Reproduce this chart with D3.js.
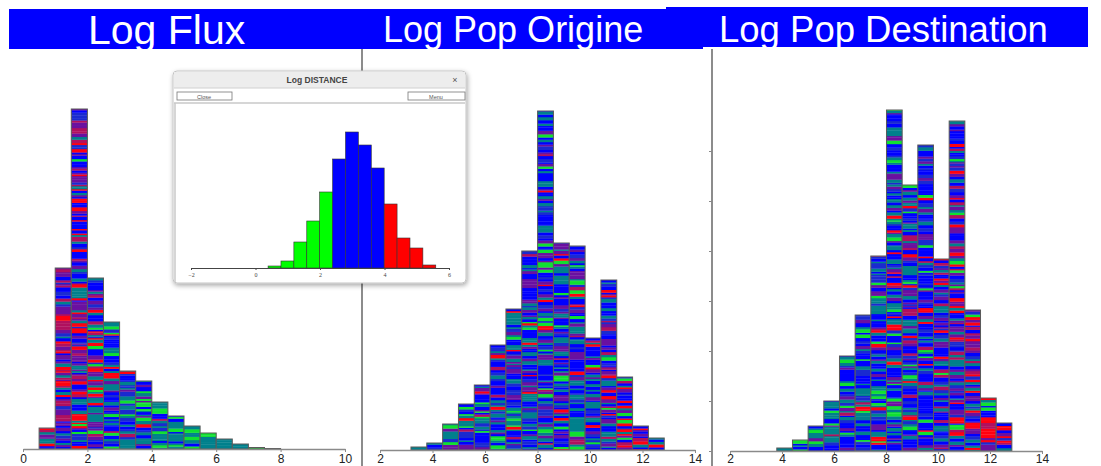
<!DOCTYPE html>
<html>
<head>
<meta charset="utf-8">
<script src="https://cdn.jsdelivr.net/npm/d3@7"></script>
<style>
  body { margin: 0; background: #fff; }
  svg { display: block; font-family: "Liberation Sans", Arial, sans-serif; }
</style>
</head>
<body>
<svg id="chart"></svg>
<script>
// ---- data ----
let titles = ['Log Flux', 'Log Pop Origine', 'Log Pop Destination']

// Log Flux : bins of 0.5 starting at 0.5
let fluxStart = 0.5
let fluxStep = 0.5
let fluxCounts = [21, 181, 340, 171, 127, 78, 68, 47, 33, 23, 16, 10, 5, 1.5, 0.5]
let fluxRed = [0.6, 0.55, 0.4, 0.3, 0.15, 0.1, 0.06, 0.05, 0.03, 0.02, 0.01, 0, 0, 0, 0]
let fluxGreen = [0.05, 0.06, 0.1, 0.18, 0.22, 0.2, 0.35, 0.4, 0.5, 0.65, 0.75, 0.8, 0.85, 0.6, 0.2]

// Log Pop Origine
let originStart = 3.18
let originStep = 0.603
let originCounts = [3, 7, 26, 46, 65, 105, 141, 199, 339, 207, 204, 112, 170, 73, 24, 12]
let originRed = [0.05, 0.1, 0.1, 0.08, 0.08, 0.1, 0.12, 0.12, 0.1, 0.15, 0.2, 0.25, 0.25, 0.3, 0.35, 0.45]
let originGreen = [0.2, 0.3, 0.3, 0.3, 0.25, 0.2, 0.2, 0.15, 0.12, 0.15, 0.12, 0.12, 0.1, 0.1, 0.08, 0.05]

// Log Pop Destination
let destStart = 3.8
let destStep = 0.6027
let destCounts = [3, 11, 25, 50, 95, 136, 195, 341, 266, 306, 192, 330, 141, 53, 28]
let destRed = [0.3, 0.15, 0.1, 0.08, 0.08, 0.1, 0.12, 0.1, 0.15, 0.15, 0.2, 0.25, 0.3, 0.4, 0.5]
let destGreen = [0.3, 0.35, 0.35, 0.4, 0.3, 0.25, 0.2, 0.2, 0.15, 0.15, 0.1, 0.1, 0.08, 0.05, 0.05]

// Log DISTANCE (inset window)
let distStart = 0.39
let distStep = 0.4
let distCounts = [2, 7, 26, 47, 76, 109, 136, 123, 100, 64, 30, 20, 3]
let distClass = ['g', 'g', 'g', 'g', 'g', 'b', 'b', 'b', 'b', 'r', 'r', 'r', 'r']

let fluxTicks = [0, 2, 4, 6, 8, 10]
let popTicks = [2, 4, 6, 8, 10, 12, 14]
let distTicks = [-2, 0, 2, 4, 6]

// ---- layout ----
let width = 1101
let height = 466

let svg = d3.select('#chart')
    .attr('width', width)
    .attr('height', height)

let defs = svg.append('defs')
defs.append('filter')
    .attr('id', 'shadow')
    .attr('x', '-10%').attr('y', '-10%').attr('width', '120%').attr('height', '125%')
    .append('feDropShadow')
    .attr('dx', 1).attr('dy', 2).attr('stdDeviation', 2.5)
    .attr('flood-color', '#000').attr('flood-opacity', 0.35)

// stripe shades: red, crimson, purple, blue, dark blue, teal, green
let palette = ['#ff0010', '#b0105e', '#6a10a0', '#0000ff', '#1a2ad0', '#00808c', '#10e030']

let stripeColor = (u, r, g) => {
    let b = Math.max(0, 1 - r - g)
    let w = [r * 0.4, r * 0.3, r * 0.3 + b * 0.14, b * 0.5, b * 0.16, b * 0.2 + g * 0.62, g * 0.38]
    let acc = 0
    for (let k = 0; k < w.length; k++) {
        acc += w[k]
        if (u < acc) return palette[k]
    }
    return palette[3]
}

// deterministic hash used only for the stripe texture
let hash = (a, b, c) => {
    let v = Math.sin(a * 127.1 + b * 311.7 + c * 74.7) * 43758.5453
    return v - Math.floor(v)
}

// one striped histogram panel
let drawPanel = (opts) => {
    let xScale = d3.scaleLinear().domain(opts.domain).range(opts.xRange)
    let yScale = d3.scaleLinear().domain([0, d3.max(opts.counts)]).range([opts.base, opts.top])

    let bins = opts.counts.map((c, i) => {
        return {
            i: i,
            x0: opts.start + i * opts.step,
            x1: opts.start + (i + 1) * opts.step,
            count: c,
            red: opts.red[i],
            green: opts.green[i]
        }
    })

    let g = svg.append('g')

    bins.forEach((bin) => {
        let x0 = xScale(bin.x0)
        let x1 = xScale(bin.x1)
        let yTop = yScale(bin.count)
        let h = opts.base - yTop
        let bar = g.append('g')
        let stripes = []
        let y1 = opts.base
        let j = 0
        while (y1 > yTop + 0.01) {
            let sh = 1.2 + 2.4 * hash(bin.i, j, opts.seed + 5)
            let y0 = Math.max(yTop, y1 - sh)
            let u = hash(bin.i + 0.5, j, opts.seed)
            stripes.push({ y: y0, h: y1 - y0, fill: stripeColor(u, bin.red, bin.green) })
            y1 = y0
            j++
        }
        bar.selectAll('rect')
            .data(stripes)
            .enter()
            .append('rect')
            .attr('x', x0)
            .attr('width', x1 - x0)
            .attr('y', (d) => d.y)
            .attr('height', (d) => d.h + 0.3)
            .attr('fill', (d) => d.fill)
        bar.append('rect')
            .attr('x', x0)
            .attr('y', yTop)
            .attr('width', x1 - x0)
            .attr('height', h)
            .attr('fill', 'none')
            .attr('stroke', '#5a5a5a')
            .attr('stroke-width', 1)
    })

    let xAxis = d3.axisBottom(xScale)
        .tickValues(opts.ticks)
        .tickSize(3)
        .tickSizeOuter(0)
    let ax = svg.append('g')
        .attr('transform', 'translate(0,' + opts.base + ')')
        .call(xAxis)
    ax.select('.domain').attr('stroke', '#8a8a8a').attr('stroke-width', 1.5)
    ax.selectAll('.tick line').attr('stroke', '#8a8a8a')
    // keep the labels inside the bottom edge of the page
    ax.selectAll('.tick text')
        .attr('y', 454.5 - opts.base)
        .attr('fill', '#222')
        .style('font-size', '12px')
        .style('font-family', '"Liberation Sans", Arial, sans-serif')

    return yScale
}

// title bands
svg.append('rect').attr('x', 9).attr('y', 9).attr('width', 694).attr('height', 40).attr('fill', '#0000ff')
svg.append('rect').attr('x', 666).attr('y', 7).attr('width', 422).attr('height', 40).attr('fill', '#0000ff')

svg.append('text').attr('x', 88).attr('y', 44).text(titles[0])
    .attr('fill', '#fff').style('font-size', '41px')
svg.append('text').attr('x', 383).attr('y', 42).text(titles[1])
    .attr('fill', '#fff').style('font-size', '36px')
svg.append('text').attr('x', 719).attr('y', 42).text(titles[2])
    .attr('fill', '#fff').style('font-size', '36.5px')

// dividers between panels
svg.append('line').attr('x1', 362).attr('x2', 362).attr('y1', 49).attr('y2', height)
    .attr('stroke', '#8c8c8c').attr('stroke-width', 2)
svg.append('line').attr('x1', 712).attr('x2', 712).attr('y1', 49).attr('y2', height)
    .attr('stroke', '#8c8c8c').attr('stroke-width', 2)

drawPanel({
    domain: [0, 10], xRange: [23, 345], base: 449, top: 109,
    start: fluxStart, step: fluxStep, counts: fluxCounts,
    red: fluxRed, green: fluxGreen, ticks: fluxTicks, seed: 1
})

drawPanel({
    domain: [2, 14], xRange: [380, 695], base: 450, top: 111,
    start: originStart, step: originStep, counts: originCounts,
    red: originRed, green: originGreen, ticks: popTicks, seed: 2
})

let destY = drawPanel({
    domain: [2, 14], xRange: [730, 1042], base: 451, top: 110,
    start: destStart, step: destStep, counts: destCounts,
    red: destRed, green: destGreen, ticks: popTicks, seed: 3
})

// faint y ticks sitting on the divider
let yTickAxis = d3.axisLeft(destY).ticks(8).tickSize(3).tickFormat('')
let yt = svg.append('g').attr('transform', 'translate(712,0)').call(yTickAxis)
yt.select('.domain').remove()
yt.selectAll('.tick line').attr('stroke', '#888')

// ---- inset window "Log DISTANCE" ----
let win = svg.append('g')
win.append('rect')
    .attr('x', 173).attr('y', 71).attr('width', 293).attr('height', 212)
    .attr('rx', 4)
    .attr('fill', '#fff')
    .attr('stroke', '#c4c4c4')
    .attr('filter', 'url(#shadow)')
win.append('rect')
    .attr('x', 174).attr('y', 72).attr('width', 291).attr('height', 16)
    .attr('fill', '#ededed')
win.append('line').attr('x1', 174).attr('x2', 465).attr('y1', 88).attr('y2', 88).attr('stroke', '#d0d0d0')
win.append('text').attr('x', 317).attr('y', 83).attr('text-anchor', 'middle')
    .text('Log DISTANCE')
    .attr('fill', '#444').style('font-size', '8.5px').style('font-weight', 'bold')
win.append('text').attr('x', 455).attr('y', 83).attr('text-anchor', 'middle')
    .text('×').attr('fill', '#555').style('font-size', '9px')

win.append('rect').attr('x', 177).attr('y', 92).attr('width', 55).attr('height', 8)
    .attr('fill', '#fff').attr('stroke', '#777').attr('stroke-width', 0.8)
win.append('text').attr('x', 204).attr('y', 98.5).attr('text-anchor', 'middle')
    .text('Close').attr('fill', '#555').style('font-size', '5.5px')
win.append('rect').attr('x', 408).attr('y', 92).attr('width', 57).attr('height', 8)
    .attr('fill', '#fff').attr('stroke', '#777').attr('stroke-width', 0.8)
win.append('text').attr('x', 436).attr('y', 98.5).attr('text-anchor', 'middle')
    .text('Menu').attr('fill', '#555').style('font-size', '5.5px')
win.append('line').attr('x1', 174).attr('x2', 465).attr('y1', 103).attr('y2', 103)
    .attr('stroke', '#c8c8c8').attr('stroke-width', 1.5)
win.append('line').attr('x1', 175).attr('x2', 175).attr('y1', 103).attr('y2', 282)
    .attr('stroke', '#c8c8c8').attr('stroke-width', 1.5)

let distX = d3.scaleLinear().domain([-2, 6]).range([191, 449])
let distY = d3.scaleLinear().domain([0, d3.max(distCounts)]).range([268, 132])
let classColor = { g: '#00ff00', b: '#0000ff', r: '#ff0000' }

let distBins = distCounts.map((c, i) => {
    return { x0: distStart + i * distStep, x1: distStart + (i + 1) * distStep, count: c, cls: distClass[i] }
})

win.selectAll('.dbar')
    .data(distBins)
    .enter()
    .append('rect')
    .attr('class', 'dbar')
    .attr('x', (d) => distX(d.x0))
    .attr('width', (d) => distX(d.x1) - distX(d.x0))
    .attr('y', (d) => distY(d.count))
    .attr('height', (d) => 268 - distY(d.count))
    .attr('fill', (d) => classColor[d.cls])
    .attr('stroke', '#333')
    .attr('stroke-width', 0.6)

let distAxis = d3.axisBottom(distX).tickValues(distTicks).tickSize(2).tickSizeOuter(0).tickPadding(3)
let dax = win.append('g').attr('transform', 'translate(0,268)').call(distAxis)
dax.select('.domain').attr('stroke', '#444')
dax.selectAll('.tick line').attr('stroke', '#444')
dax.selectAll('.tick text')
    .attr('fill', '#444')
    .style('font-size', '6px')
    .style('font-family', '"Liberation Serif", serif')
</script>
</body>
</html>
